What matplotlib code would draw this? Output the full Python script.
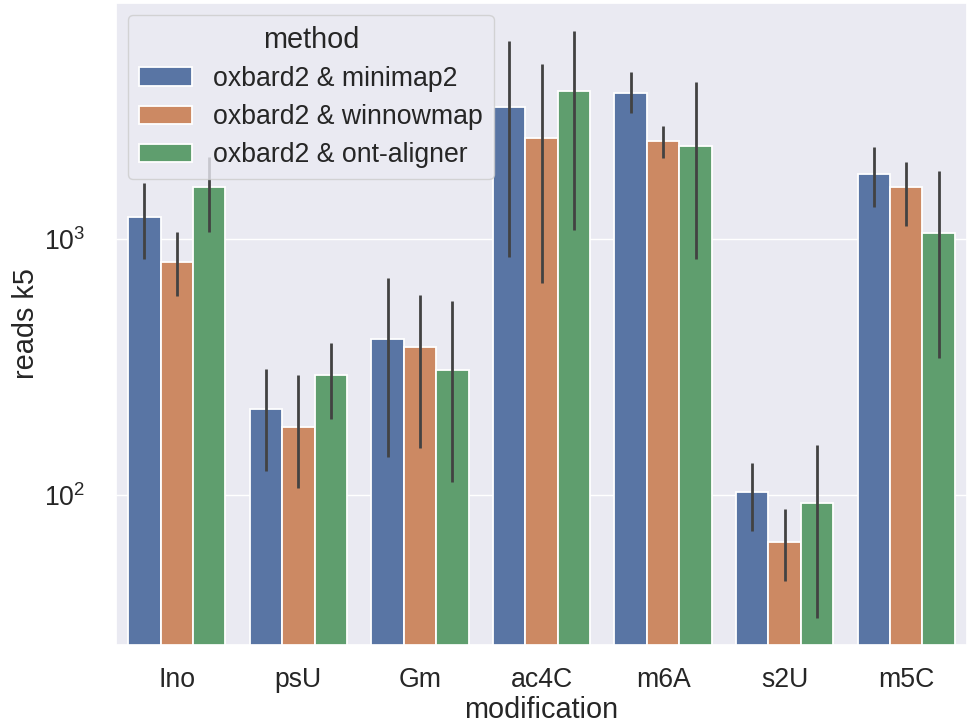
import matplotlib
matplotlib.use("Agg")
import matplotlib.pyplot as plt
import matplotlib.patches as mpatches
import numpy as np
import seaborn as sns

# ── Données ────────────────────────────────────────────────────────────────────
modifications = ["Ino", "psU", "Gm", "ac4C", "m6A", "s2U", "m5C"]
methods = ["oxbard2 & minimap2", "oxbard2 & winnowmap", "oxbard2 & ont-aligner"]

# hauteur des barres (reads k5)
minimap2_mean = [1219, 217, 406, 3281, 3718, 103, 1795]
winnowmap_mean = [809, 184, 378, 2483, 2416, 65.5, 1596]
ontaligner_mean = [1589, 294, 308, 3788, 2307, 93, 1055]

# bornes basses / hautes des barres d'erreur
minimap2_lo = [835, 124, 141, 851, 3106, 72, 1334]
minimap2_hi = [1655, 311, 705, 5930, 4487, 133, 2287]
winnowmap_lo = [598, 106, 153, 673, 2071, 46, 1124]
winnowmap_hi = [1065, 294, 604, 4830, 2762, 88, 2000]
ontaligner_lo = [1065, 198, 112, 1084, 835, 33, 343]
ontaligner_hi = [2090, 393, 573, 6494, 4101, 157, 1844]

COLORS = ["#5975A4", "#CC8963", "#5F9E6E"]

sns.set_theme(style="darkgrid")
plt.rcParams["font.family"] = ["Liberation Sans", "DejaVu Sans"]

fig = plt.figure(figsize=(9.67, 7.26), dpi=100)
ax = fig.add_axes([0.12, 0.1116, 0.88, 0.8843])

means = [minimap2_mean, winnowmap_mean, ontaligner_mean]
los = [minimap2_lo, winnowmap_lo, ontaligner_lo]
his = [minimap2_hi, winnowmap_hi, ontaligner_hi]

x = np.arange(len(modifications))
width = 0.8 / len(methods)

for i, (m, lo, hi) in enumerate(zip(means, los, his)):
    pos = x + (i - 1) * width
    ax.bar(pos, m, width=width, color=COLORS[i], edgecolor="white",
           linewidth=1.3, label=methods[i], zorder=2)
    ax.vlines(pos, lo, hi, color="#424242", linewidth=2.0, zorder=3)

ax.set_yscale("log")
ax.set_ylim(25.9, 8356)
ax.set_xlim(-0.5, len(modifications) - 0.5)
ax.grid(False, axis="x")
ax.set_xticks(x)
ax.set_xticklabels(modifications)
ax.tick_params(axis="x", labelsize=19.2, pad=10)
ax.tick_params(axis="y", labelsize=19.2, pad=16)
ax.minorticks_off()
ax.set_xlabel("modification", fontsize=20.8, labelpad=2)
ax.set_ylabel("reads k5", fontsize=20.8, labelpad=3)

handles = [mpatches.Patch(facecolor=c, edgecolor="white", linewidth=1.3, label=l)
           for c, l in zip(COLORS, methods)]
leg = ax.legend(handles=handles, title="method", loc="upper left",
                fontsize=19.2, title_fontsize=20.8, framealpha=0.8,
                handlelength=2.0, handleheight=0.7, labelspacing=0.46,
                borderaxespad=0.45)

fig.savefig("out.png", dpi=100)
